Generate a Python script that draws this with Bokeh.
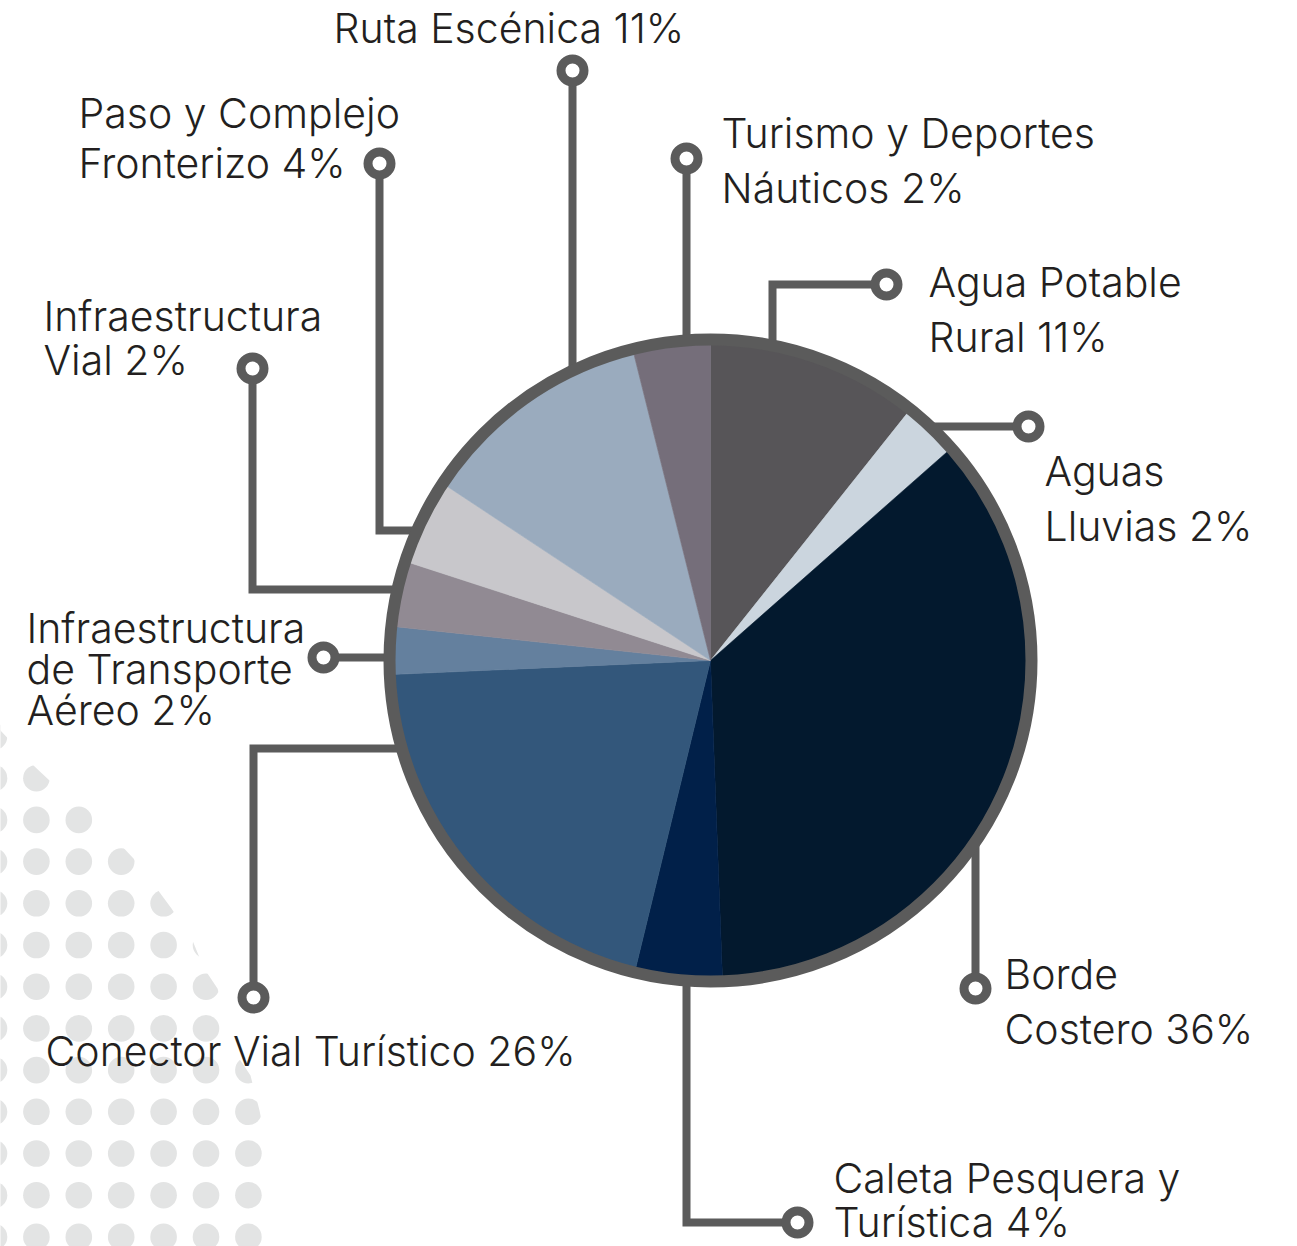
import numpy as np
from math import pi
from bokeh.plotting import figure
from bokeh.models import Range1d
from bokeh.embed import file_html
from bokeh.resources import INLINE
from bokeh.core.properties import value

# ---------------- data ----------------
categories = ["Agua Potable Rural", "Aguas Lluvias", "Borde Costero",
              "Caleta Pesquera y Turística", "Conector Vial Turístico",
              "Infraestructura de Transporte Aéreo", "Infraestructura Vial",
              "Paso y Complejo Fronterizo", "Ruta Escénica",
              "Turismo y Deportes Náuticos"]
# slice shares as drawn (percent of the circle)
shares = [10.7, 2.8, 35.9, 4.4, 20.5, 2.4, 3.3, 4.3, 11.8, 3.9]
# percentages printed in the labels
label_pcts = [11, 2, 36, 4, 26, 2, 2, 4, 11, 2]
label_lines = [["Agua Potable", "Rural"], ["Aguas", "Lluvias"], ["Borde", "Costero"],
               ["Caleta Pesquera y", "Turística"], ["Conector Vial Turístico"],
               ["Infraestructura", "de Transporte", "Aéreo"], ["Infraestructura", "Vial"],
               ["Paso y Complejo", "Fronterizo"], ["Ruta Escénica"],
               ["Turismo y Deportes", "Náuticos"]]
colors = ["#575558", "#cbd5de", "#03192e", "#012049", "#33577b",
          "#64809e", "#918a93", "#c8c7cb", "#9aabbe", "#756e7a"]

# ---------------- layout (page pixel coords, y downwards) ----------------
W, H = 1297, 1246
CX, CY = 710, 660
R_PIE = 321          # ring centre radius
RING_W = 12
GRAY = "#5b5b5b"
TXT = "#231f20"
FONT = "Inter Light"
FSIZE = "41px"
BASE_SHIFT = 16      # renderer draws baselines this much lower

# leader: (marker x, marker y, kind, elbow)
leaders = [
    (886, 284, "hv", 772),
    (1028, 426, "h", None),
    (975, 988, "v", None),
    (797, 1222, "hv", 686),
    (253, 997, "vh", 748),
    (323, 657, "h", None),
    (252, 368, "vh", 589),
    (379, 163, "vh", 530),
    (572, 70, "v", None),
    (686, 158, "v", None),
]
# label: (left x, first baseline y, line spacing)
label_pos = [
    (928, 297, 55),
    (1044, 486, 55),
    (1004, 989, 55),
    (833, 1193, 44),
    (45, 1066, 0),
    (26, 643, 41),
    (43, 331, 44),
    (78, 128, 50),
    (333, 43, 0),
    (721, 148, 55),
]

p = figure(width=W, height=H, output_backend="svg", toolbar_location=None,
           x_range=Range1d(0, W), y_range=Range1d(-H, 0),
           x_axis_type=None, y_axis_type=None, min_border=0)
p.grid.visible = False
p.outline_line_color = None
p.background_fill_color = "white"
p.border_fill_color = "white"

def Y(y):
    return -y

# ---------------- background dot pattern (decoration) ----------------
dx = [-6.5 + 42.4 * k for k in range(7)]
dy = [736 + 41.7 * j for j in range(13)]
gx, gy = np.meshgrid(dx, dy)
p.circle(gx.ravel(), -gy.ravel(), radius=13.3, fill_color="#e3e4e4", line_color=None)
mask_x = [-20, -20, 0, 33, 49, 79, 92, 118, 133, 154, 171, 192, 203, 217, 238, 250, 259, 265, 275, 420, 420]
mask_y = [600, 712, 730, 765, 780, 802, 813, 842, 858, 885, 908, 940, 967, 988, 1057, 1075, 1110, 1140, 1260, 1260, 600]
p.patch(mask_x, [Y(v) for v in mask_y], fill_color="white", line_color=None)

# ---------------- leader lines ----------------
def edge_y(x, top):
    d = np.sqrt(R_PIE ** 2 - (x - CX) ** 2)
    return CY - d if top else CY + d

def edge_x(y, right):
    d = np.sqrt(R_PIE ** 2 - (y - CY) ** 2)
    return CX + d if right else CX - d

xs, ys = [], []
for mx, my, kind, el in leaders:
    if kind == "v":
        pts = [(mx, my), (mx, edge_y(mx, my < CY))]
    elif kind == "h":
        pts = [(mx, my), (edge_x(my, mx > CX), my)]
    elif kind == "hv":
        pts = [(mx, my), (el, my), (el, edge_y(el, my < CY))]
    else:  # vh
        pts = [(mx, my), (mx, el), (edge_x(el, mx > CX), el)]
    xs.append([q[0] for q in pts])
    ys.append([Y(q[1]) for q in pts])
p.multi_line(xs, ys, line_color=GRAY, line_width=8, line_join="miter", line_cap="butt")

# ---------------- pie ----------------
shares_arr = np.array(shares, dtype=float)
cum = np.concatenate([[0], np.cumsum(shares_arr)]) / shares_arr.sum() * 2 * pi
theta1, theta2 = cum[:-1], cum[1:]          # clockwise from 12 o'clock
start = pi / 2 - theta2
end = pi / 2 - theta1
p.wedge(x=CX, y=Y(CY), radius=R_PIE, start_angle=start, end_angle=end,
        fill_color=colors, line_color=colors, line_width=0.6)
p.circle([CX], [Y(CY)], radius=R_PIE, fill_color=None, line_color=GRAY, line_width=RING_W)

# markers
p.circle([l[0] for l in leaders], [Y(l[1]) for l in leaders], radius=11.5,
         fill_color="white", line_color=GRAY, line_width=9)

# ---------------- labels ----------------
tx, ty, tt = [], [], []
for lines, pct, (lx, ly, sp) in zip(label_lines, label_pcts, label_pos):
    for i, ln in enumerate(lines):
        s = ln + (" %d%%" % pct if i == len(lines) - 1 else "")
        tx.append(lx)
        ty.append(Y(ly + i * sp - BASE_SHIFT))
        tt.append(s)
p.text(tx, ty, text=tt, text_font=value(FONT), text_font_size=FSIZE,
       text_color=TXT, text_baseline="alphabetic", text_align="left")

open("out.html", "w").write(file_html(p, INLINE))
